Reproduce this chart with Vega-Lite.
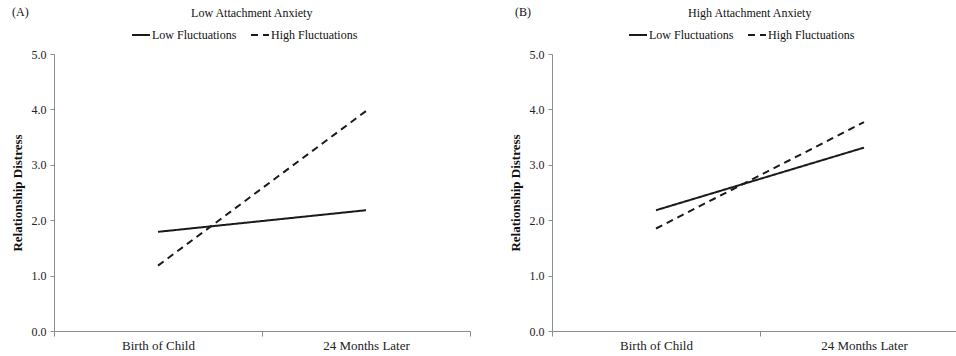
{
  "$schema": "https://vega.github.io/schema/vega-lite/v6.json",
  "padding": {"left": 11, "top": 6, "right": 0, "bottom": 0},
  "background": "white",
  "data": {"values": [
    {"panel": "A", "time": "Birth of Child", "series": "Low Fluctuations", "distress": 1.79},
    {"panel": "A", "time": "24 Months Later", "series": "Low Fluctuations", "distress": 2.18},
    {"panel": "A", "time": "Birth of Child", "series": "High Fluctuations", "distress": 1.18},
    {"panel": "A", "time": "24 Months Later", "series": "High Fluctuations", "distress": 3.97},
    {"panel": "B", "time": "Birth of Child", "series": "Low Fluctuations", "distress": 2.18},
    {"panel": "B", "time": "24 Months Later", "series": "Low Fluctuations", "distress": 3.31},
    {"panel": "B", "time": "Birth of Child", "series": "High Fluctuations", "distress": 1.85},
    {"panel": "B", "time": "24 Months Later", "series": "High Fluctuations", "distress": 3.77}
  ]},
  "spacing": 38,
  "hconcat": [
    {
      "title": {"text": "(A)", "anchor": "start", "frame": "bounds", "offset": 0, "dy": 12, "dx": 1},
      "resolve": {"scale": {"strokeDash": "independent"}, "legend": {"strokeDash": "independent"}},
      "vconcat": [
        {
          "width": 416,
          "height": 277,
          "title": {"text": "Low Attachment Anxiety", "anchor": "middle", "frame": "bounds", "dx": 11, "offset": 5},
          "transform": [{"filter": "datum.panel === 'A'"}],
          "mark": {"type": "line", "color": "#1a1a1a", "strokeWidth": 2},
          "encoding": {
            "x": {"field": "time", "type": "ordinal", "sort": ["Birth of Child", "24 Months Later"],
                  "scale": {"type": "band", "paddingInner": 0, "paddingOuter": 0},
                  "axis": {"tickBand": "extent", "title": null, "labelAngle": 0}},
            "y": {"field": "distress", "type": "quantitative", "scale": {"domain": [0, 5]},
                  "axis": {"values": [0, 1, 2, 3, 4, 5], "format": ".1f", "title": "Relationship Distress"}},
            "strokeDash": {"field": "series", "type": "nominal",
                  "scale": {"domain": ["Low Fluctuations", "High Fluctuations"], "range": [[1, 0], [7, 5]]},
                  "legend": {"title": null, "orient": "none", "direction": "horizontal", "legendX": 77, "legendY": -29}}
          }
        }
      ]
    },
    {
      "title": {"text": "(B)", "anchor": "start", "frame": "bounds", "offset": 0, "dy": 12, "dx": 6},
      "resolve": {"scale": {"strokeDash": "independent"}, "legend": {"strokeDash": "independent"}},
      "vconcat": [
        {
          "width": 404,
          "height": 277,
          "title": {"text": "High Attachment Anxiety", "anchor": "middle", "frame": "bounds", "dx": 11, "offset": 5},
          "transform": [{"filter": "datum.panel === 'B'"}],
          "mark": {"type": "line", "color": "#1a1a1a", "strokeWidth": 2},
          "encoding": {
            "x": {"field": "time", "type": "ordinal", "sort": ["Birth of Child", "24 Months Later"],
                  "scale": {"type": "band", "paddingInner": 0, "paddingOuter": 0, "range": [0, 416]},
                  "axis": {"tickBand": "extent", "title": null, "labelAngle": 0}},
            "y": {"field": "distress", "type": "quantitative", "scale": {"domain": [0, 5]},
                  "axis": {"values": [0, 1, 2, 3, 4, 5], "format": ".1f", "title": "Relationship Distress"}},
            "strokeDash": {"field": "series", "type": "nominal",
                  "scale": {"domain": ["Low Fluctuations", "High Fluctuations"], "range": [[1, 0], [7, 5]]},
                  "legend": {"title": null, "orient": "none", "direction": "horizontal", "legendX": 76, "legendY": -29}}
          }
        }
      ]
    }
  ],
  "resolve": {
    "scale": {"strokeDash": "independent", "x": "independent", "y": "independent"},
    "legend": {"strokeDash": "independent"}
  },
  "config": {
    "font": "Liberation Serif",
    "view": {"stroke": null},
    "axis": {"domainColor": "#8c8c8c", "tickColor": "#8c8c8c", "labelFont": "Liberation Serif", "labelColor": "#222222",
             "titleFont": "Liberation Serif", "grid": false, "domainWidth": 1, "tickWidth": 1},
    "axisX": {"labelFontSize": 13, "tickSize": 5, "labelPadding": 3},
    "axisY": {"labelFontSize": 12, "tickSize": 4, "labelPadding": 4, "titleFontSize": 13, "titleFontWeight": "bold",
              "titleColor": "#111111", "titlePadding": 7},
    "title": {"font": "Liberation Serif", "fontSize": 12, "fontWeight": "normal", "color": "#111111"},
    "legend": {"labelFont": "Liberation Serif", "labelFontSize": 12, "labelColor": "#111111", "labelOffset": 1,
               "symbolType": "stroke", "symbolSize": 324, "symbolStrokeWidth": 2, "symbolStrokeColor": "#1a1a1a",
               "columnPadding": 10, "padding": 0}
  }
}
